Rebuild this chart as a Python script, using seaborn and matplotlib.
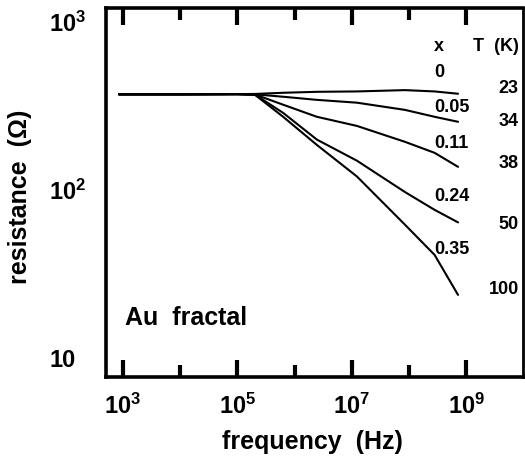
import pandas as pd
import matplotlib.pyplot as plt
from matplotlib.ticker import FixedLocator, FixedFormatter, NullFormatter
import seaborn as sns

# frequency grid (Hz) and resistance (ohm) for each x
freq = [8.5e2, 1e4, 1e5, 2.04e5, 6.3e5, 2.45e6, 1.23e7, 8.5e7, 2.8e8, 7.2e8]
r_x0 = [370, 370, 371, 372, 378, 383, 385, 392, 385, 373]
r_x005 = [370, 370, 371, 370, 358, 343, 330, 299, 272, 254]
r_x011 = [370, 370, 371, 369, 321, 272, 240, 193, 166, 137]
r_x024 = [370, 370, 371, 368, 287, 199, 149, 97, 76, 64]
r_x035 = [370, 370, 371, 367, 272, 185, 120, 62, 41, 23.7]

x_labels = ['0', '0.05', '0.11', '0.24', '0.35']
t_labels = ['23', '34', '38', '50', '100']

df = pd.concat([
    pd.DataFrame({'freq': freq, 'R': r, 'x': lab})
    for r, lab in zip([r_x0, r_x005, r_x011, r_x024, r_x035], x_labels)
])

sns.set_style('ticks')
plt.rcParams['font.family'] = ['Liberation Sans', 'DejaVu Sans']
plt.rcParams['font.weight'] = 'bold'
plt.rcParams['mathtext.fontset'] = 'custom'
plt.rcParams['mathtext.rm'] = 'Liberation Sans:bold'
plt.rcParams['mathtext.default'] = 'rm'
for key in ['text.color', 'axes.edgecolor', 'axes.labelcolor', 'xtick.color', 'ytick.color']:
    plt.rcParams[key] = 'black'

fig = plt.figure(figsize=(5.25, 4.59), dpi=100)
ax = fig.add_axes([0.202, 0.179, 0.794, 0.804])

sns.lineplot(data=df, x='freq', y='R', hue='x', units='x', estimator=None,
             palette=['black'] * 5, linewidth=1.5, legend=False, ax=ax)

ax.set_xscale('log')
ax.set_yscale('log')
ax.set_xlim(505, 9.8e9)
ax.set_ylim(7.71, 1211)

for s in ax.spines.values():
    s.set_linewidth(2.6)
    s.set_color('black')
ax.spines['right'].set_linewidth(2)

# x ticks
ax.xaxis.set_major_locator(FixedLocator([1e3, 1e5, 1e7, 1e9]))
ax.xaxis.set_major_formatter(FixedFormatter([r'$10^{3}$', r'$10^{5}$', r'$10^{7}$', r'$10^{9}$']))
ax.xaxis.set_minor_locator(FixedLocator([1e4, 1e6, 1e8]))
ax.xaxis.set_minor_formatter(NullFormatter())
ax.tick_params(axis='x', which='major', direction='in', length=12, width=3,
               top=True, pad=12, labelsize=17)
ax.tick_params(axis='x', which='minor', direction='in', length=8.5, width=3, top=True)

# y ticks
ax.yaxis.set_major_locator(FixedLocator([10, 100, 1000]))
ax.yaxis.set_major_formatter(FixedFormatter(['10', r'$10^{2}$', r'$10^{3}$']))
ax.yaxis.set_minor_locator(FixedLocator([100]))
ax.yaxis.set_minor_formatter(NullFormatter())
ax.tick_params(axis='y', which='major', length=0, pad=41, labelsize=17)
ax.tick_params(axis='y', which='minor', direction='in', length=11.5, width=2.6, right=True)
for lab in ax.get_yticklabels():
    lab.set_horizontalalignment('left')

ax.set_xlabel('frequency  (Hz)', fontsize=18, fontweight='bold')
ax.set_ylabel('resistance  (\u03a9)', fontsize=18, fontweight='bold')
ax.xaxis.set_label_coords(0.494, -0.144)
ax.yaxis.set_label_coords(-0.177, 0.488)

# annotations
ax.text(0.799, 0.894, 'x', transform=ax.transAxes, ha='center', va='center',
        fontsize=13, fontweight='bold')
ax.text(0.990, 0.894, 'T  (K)', transform=ax.transAxes, ha='right', va='center',
        fontsize=13, fontweight='bold')
for lab, y in zip(x_labels, [0.824, 0.729, 0.631, 0.488, 0.344]):
    ax.text(0.787, y, lab, transform=ax.transAxes, ha='left', va='center',
            fontsize=13, fontweight='bold')
for lab, y in zip(t_labels, [0.780, 0.691, 0.577, 0.412, 0.236]):
    ax.text(0.990, y, lab, transform=ax.transAxes, ha='right', va='center',
            fontsize=13, fontweight='bold')
ax.text(0.046, 0.160, 'Au  fractal', transform=ax.transAxes, ha='left', va='center',
        fontsize=18, fontweight='bold')

fig.savefig('out.png', dpi=100)
